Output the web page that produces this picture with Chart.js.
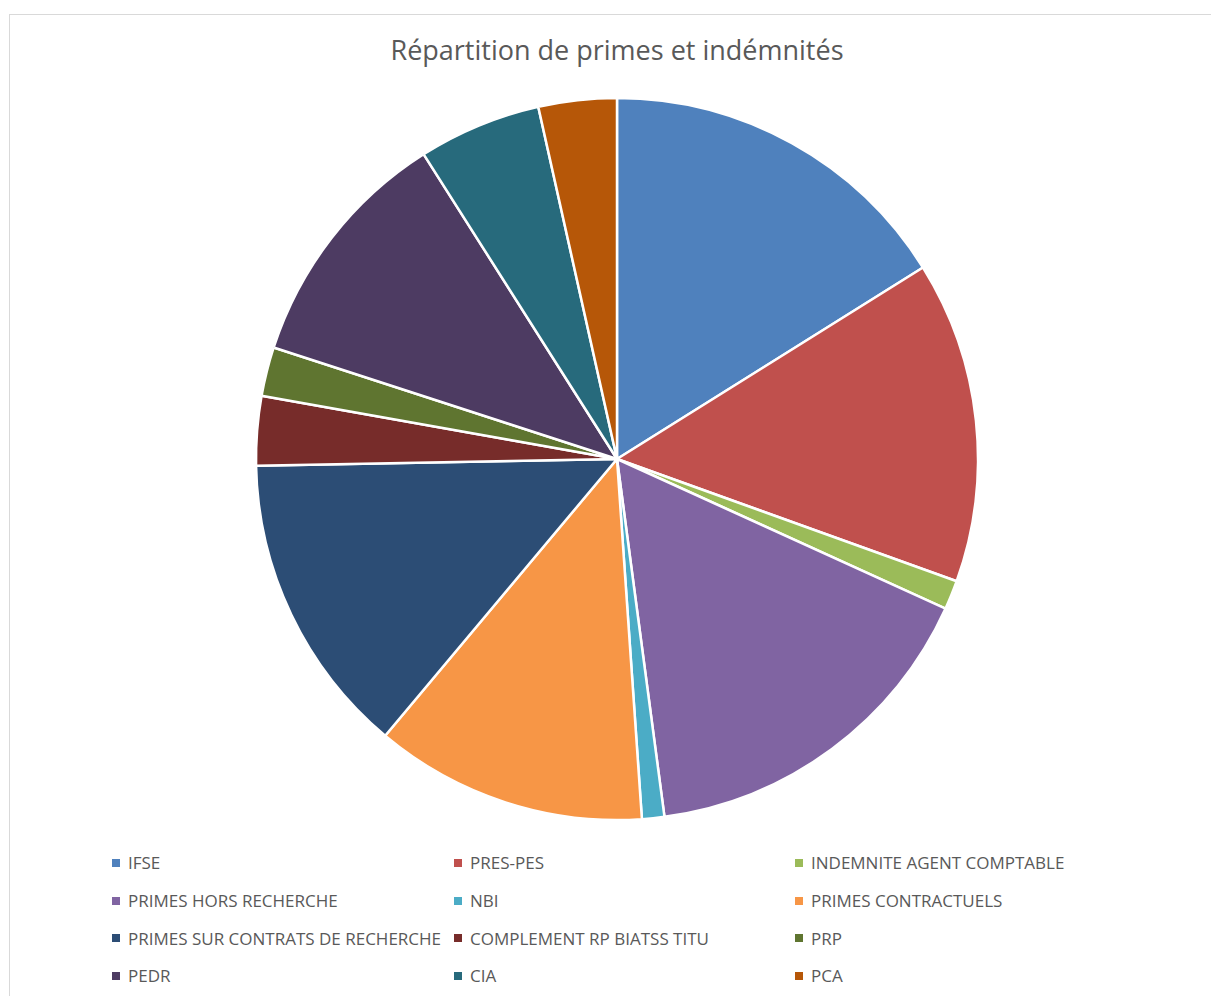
<!DOCTYPE html>
<html lang="fr">
<head>
<meta charset="utf-8">
<title>Répartition de primes et indémnités</title>
<script src="https://cdn.jsdelivr.net/npm/chart.js@4.4.6/dist/chart.umd.min.js"></script>
<style>
  html, body { margin: 0; padding: 0; background: #fff; overflow: hidden; }
  body { width: 1211px; height: 996px; position: relative; font-family: 'Open Sans', sans-serif; color: #595959; }
  #cadre { position: absolute; left: 9px; top: 14px; width: 1300px; height: 1100px; border: 1px solid #d9d9d9; }
  #titre { position: absolute; left: 0; width: 1234px; top: 31px; text-align: center; font-size: 27px; }
  #zone { position: absolute; left: 237px; top: 79px; width: 760px; height: 760px; }
  #legende { position: absolute; left: 112px; top: 844px; display: grid; grid-template-columns: 342px 341px 340px; grid-auto-rows: 37.7px; font-size: 17px; }
  .item { display: flex; align-items: center; white-space: nowrap; }
  .item i { width: 8px; height: 8px; margin-right: 8px; display: inline-block; }
</style>
</head>
<body>
<div id="cadre"></div>
<div id="titre">Répartition de primes et indémnités</div>
<div id="zone"><canvas id="camembert"></canvas></div>
<div id="legende"></div>
<script>
// Catégories et parts (%)
const categories = [
  'IFSE', 'PRES-PES', 'INDEMNITE AGENT COMPTABLE',
  'PRIMES HORS RECHERCHE', 'NBI', 'PRIMES CONTRACTUELS',
  'PRIMES SUR CONTRATS DE RECHERCHE', 'COMPLEMENT RP BIATSS TITU', 'PRP',
  'PEDR', 'CIA', 'PCA'
];
const parts = [16.1, 14.4, 1.3, 16.1, 1.0, 12.2, 13.6, 3.1, 2.2, 11.0, 5.5, 3.5];
const couleurs = [
  '#4F81BD', '#C0504D', '#9BBB59',
  '#8064A2', '#4BACC6', '#F79646',
  '#2C4D75', '#772C2A', '#5F7530',
  '#4D3B62', '#276A7C', '#B65708'
];

const instance = new Chart(document.getElementById('camembert'), {
  type: 'pie',
  data: {
    labels: categories,
    datasets: [{
      data: parts,
      backgroundColor: couleurs,
      borderColor: '#ffffff',
      borderWidth: 2.5,
    }],
  },
  options: {
    responsive: true,
    maintainAspectRatio: false,
    animation: false,
    radius: 361,
    plugins: {
      legend: { display: false },
      tooltip: { enabled: false },
    },
  },
});

// Légende en grille de trois colonnes, comme dans Excel
const legende = document.getElementById('legende');
categories.forEach((nom, i) => {
  const item = document.createElement('div');
  item.className = 'item';
  const carre = document.createElement('i');
  carre.style.background = couleurs[i];
  item.appendChild(carre);
  item.appendChild(document.createTextNode(nom));
  legende.appendChild(item);
});
</script>
</body>
</html>
